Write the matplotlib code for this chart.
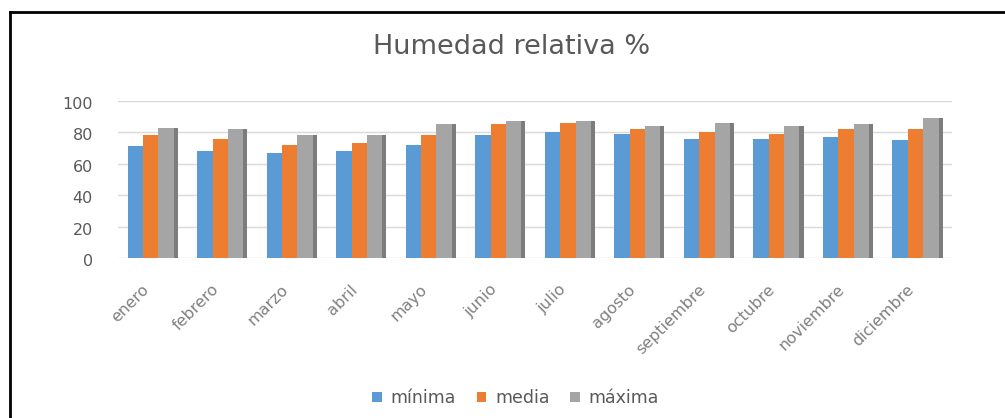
import matplotlib.pyplot as plt
import numpy as np
from matplotlib.lines import Line2D
from matplotlib.transforms import ScaledTranslation

# Humedad relativa mensual (%)
meses = ['enero', 'febrero', 'marzo', 'abril', 'mayo', 'junio', 'julio',
         'agosto', 'septiembre', 'octubre', 'noviembre', 'diciembre']
minima = [71, 68, 67, 68, 72, 78, 80, 79, 76, 76, 77, 75]
media = [78, 76, 72, 73, 78, 85, 86, 82, 80, 79, 82, 82]
maxima = [83, 82, 78, 78, 85, 87, 87, 84, 86, 84, 85, 89]

series = [('mínima', minima, '#5B9BD5', '#41719C'),
          ('media', media, '#ED7D31', '#AE5A21'),
          ('máxima', maxima, '#A5A5A5', '#7C7C7C')]

plt.rcParams['font.family'] = ['DejaVu Sans']

fig = plt.figure(figsize=(10.05, 4.18), dpi=100)
ax = fig.add_axes([0.1174, 0.383, 0.830, 0.3756])

x = np.arange(len(meses))
ancho = 0.222
lado = 0.058
for i, (nombre, valores, color, color_lado) in enumerate(series):
    pos = x + (i - 1) * ancho - lado / 2
    ax.bar(pos, valores, width=ancho, color=color, label=nombre, zorder=3)
    # cara lateral más oscura para dar sensación de volumen
    ax.bar(pos + ancho / 2 + lado / 2, valores, width=lado, color=color_lado, zorder=2)

ax.set_xlim(-0.5, len(meses) - 0.5)
ax.set_ylim(0, 100)
ax.set_yticks(range(0, 101, 20))
ax.yaxis.grid(True, color='#D9D9D9', linewidth=1, zorder=0)
for s in ax.spines.values():
    s.set_visible(False)
ax.tick_params(axis='both', length=0, colors='#595959')
ax.tick_params(axis='y', labelsize=11.5, pad=18)
baja = ScaledTranslation(0, -2 / 100, fig.dpi_scale_trans)
for lab in ax.get_yticklabels():
    lab.set_transform(lab.get_transform() + baja)

ax.set_xticks(x)
ax.set_xticklabels(meses, rotation=45, ha='right', va='center',
                   rotation_mode='anchor', fontsize=11.5, color='#808080')
ax.tick_params(axis='x', pad=21)
desplaza = ScaledTranslation(-6 / 100, 0, fig.dpi_scale_trans)
for lab in ax.get_xticklabels():
    lab.set_transform(lab.get_transform() + desplaza)

fig.text(0.509, 0.888, 'Humedad relativa %', ha='center', va='center',
         fontsize=19.5, color='#595959')

ax.legend(loc='center', bbox_to_anchor=(0.513, 0.048), bbox_transform=fig.transFigure,
          ncol=3, frameon=False, fontsize=12.5, handlelength=0.55, handleheight=0.55,
          handletextpad=0.5, columnspacing=1.2, labelcolor='#595959')

# marco exterior (solo bordes superior e izquierdo)
fig.add_artist(Line2D([10 / 1005, 10 / 1005], [0, 1 - 12 / 418], color='black',
                      linewidth=2, transform=fig.transFigure))
fig.add_artist(Line2D([10 / 1005, 1], [1 - 12 / 418, 1 - 12 / 418], color='black',
                      linewidth=2, transform=fig.transFigure))

fig.savefig('out.png', dpi=100)
